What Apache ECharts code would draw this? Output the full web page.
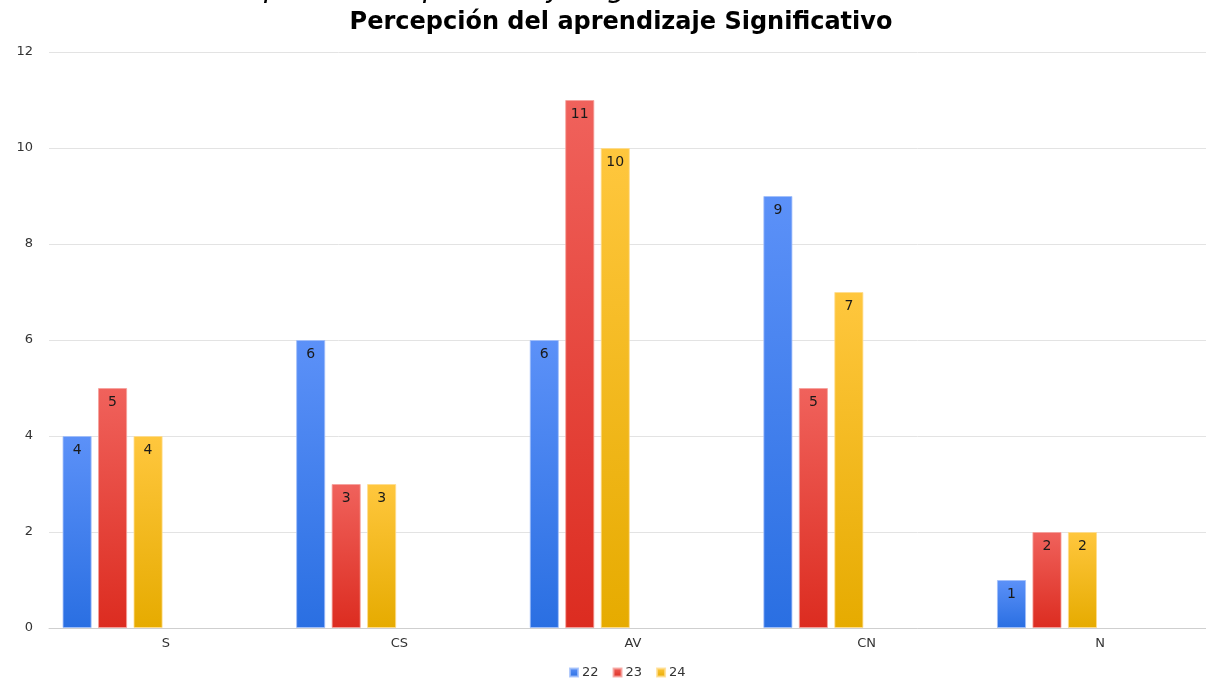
<!DOCTYPE html>
<html>
<head>
<meta charset="utf-8">
<script src="https://cdn.jsdelivr.net/npm/echarts@6/dist/echarts.min.js"></script>
<style>
html,body{margin:0;padding:0;background:#fff;}
#chart{width:1206px;height:679px;}
</style>
</head>
<body>
<div id="chart"></div>
<script>
const categories = ['S', 'CS', 'AV', 'CN', 'N'];
const seriesNames = ['22', '23', '24'];
const values22 = [4, 6, 6, 9, 1];
const values23 = [5, 3, 11, 5, 2];
const values24 = [4, 3, 10, 7, 2];
// empty placeholder columns present in the original sheet (no data)
const emptyA = [null, null, null, null, null];
const emptyB = [null, null, null, null, null];
const emptyC = [null, null, null, null, null];
const yTicks = [0, 2, 4, 6, 8, 10, 12];

const FONT = '"DejaVu Sans", sans-serif';
const grad = (top, bottom, border) => ({
  color: new echarts.graphic.LinearGradient(0, 0, 0, 1, [
    { offset: 0, color: top },
    { offset: 1, color: bottom }
  ]),
  borderColor: border,
  borderWidth: 1
});
const labelCfg = {
  show: true,
  position: 'insideTop',
  distance: 7,
  color: '#1a1a1a',
  fontSize: 14,
  fontFamily: FONT
};

const chart = echarts.init(document.getElementById('chart'));
chart.setOption({
  animation: false,
  backgroundColor: '#ffffff',
  title: {
    text: 'Percepción del aprendizaje Significativo',
    left: 616,
    textAlign: 'center',
    top: 6,
    textStyle: { fontFamily: FONT, fontWeight: 'bold', fontSize: 24, color: '#000' }
  },
  graphic: [{
    type: 'text',
    silent: true,
    style: {
      x: 183,
      y: 4,
      align: 'left',
      verticalAlign: 'bottom',
      text: 'Percepción del aprendizaje significativo',
      font: 'italic 29px "DejaVu Sans", sans-serif',
      fill: '#000'
    }
  }],
  legend: {
    data: seriesNames,
    left: 564,
    top: 661,
    itemWidth: 8,
    itemHeight: 8,
    itemGap: 14,
    icon: 'rect',
    textStyle: { fontFamily: FONT, fontSize: 13, color: '#333', padding: [0, 0, 0, -1] }
  },
  grid: {
    left: 49,
    right: -11,
    top: 52,
    bottom: 51,
    containLabel: false,
    outerBoundsMode: 'none'
  },
  xAxis: {
    type: 'category',
    data: categories,
    axisTick: { show: false },
    axisLine: { lineStyle: { color: '#cfcfcf', width: 1 } },
    axisLabel: { fontFamily: FONT, fontSize: 13, color: '#333', margin: 9 }
  },
  yAxis: {
    type: 'value',
    min: yTicks[0],
    max: yTicks[yTicks.length - 1],
    interval: yTicks[1] - yTicks[0],
    axisLine: { show: false },
    axisTick: { show: false },
    splitLine: { lineStyle: { color: '#e3e3e3', width: 1 } },
    axisLabel: { fontFamily: FONT, fontSize: 13, color: '#333', margin: 16 }
  },
  series: [
    { name: '22', type: 'bar', data: values22, barGap: '22%', barCategoryGap: '11.6%',
      itemStyle: grad('#5c91f8', '#2a6fe2', 'rgba(160,190,250,0.8)'), label: labelCfg },
    { name: '23', type: 'bar', data: values23,
      itemStyle: grad('#f0625c', '#dc2c20', 'rgba(245,160,155,0.8)'), label: labelCfg },
    { name: '24', type: 'bar', data: values24,
      itemStyle: grad('#ffc73e', '#e6ab00', 'rgba(255,220,140,0.8)'), label: labelCfg },
    { name: 'e1', type: 'bar', data: emptyA },
    { name: 'e2', type: 'bar', data: emptyB },
    { name: 'e3', type: 'bar', data: emptyC }
  ]
});
</script>
</body>
</html>
